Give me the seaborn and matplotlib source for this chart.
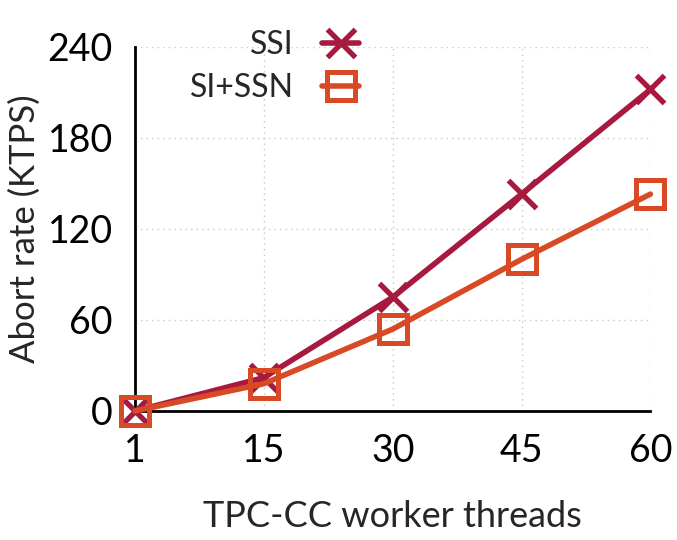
import pandas as pd
import matplotlib.pyplot as plt
import seaborn as sns

# values
threads = ['1', '15', '30', '45', '60']
ssi = [0, 22, 75, 143, 212]
si_ssn = [0, 18, 54, 100, 143]

sns.set_style('white')
plt.rcParams['font.family'] = ['Lato', 'DejaVu Sans']

pos = list(range(len(threads)))
df = pd.DataFrame({'pos': pos * 2,
                   'rate': ssi + si_ssn,
                   'scheme': ['SSI'] * len(ssi) + ['SI+SSN'] * len(si_ssn)})

fig = plt.figure(figsize=(6.77, 5.4), dpi=100)
ax = fig.add_axes([0.1994, 0.2389, 0.7613, 0.6741])

styles = {'SSI': dict(color='#a8193f', mec='#a8193f', marker='x',
                      markersize=20, mew=3.8),
          'SI+SSN': dict(color='#d84a25', mec='#d84a25', marker='s',
                         markersize=20.5, mew=3.6, mfc='none')}
for name, st in styles.items():
    sub = df[df['scheme'] == name]
    sns.lineplot(x='pos', y='rate', data=sub, ax=ax, label=name, lw=4,
                 clip_on=False, zorder=3, **st)

ax.set_xlim(0, 4)
ax.set_ylim(0, 240)
ax.set_xticks(pos)
ax.set_xticklabels(threads)
ax.set_yticks([0, 60, 120, 180, 240])
ax.grid(True, color='#c8c8c8', linestyle=(0, (1, 3)), linewidth=1)
for s in ['top', 'right']:
    ax.spines[s].set_visible(False)
for s in ['left', 'bottom']:
    ax.spines[s].set_color('black')
    ax.spines[s].set_linewidth(2)
ax.tick_params(direction='in', length=7, width=2, labelsize=27, pad=16,
               colors='black')
ax.set_xlabel('TPC-CC worker threads', fontsize=26, labelpad=22)
ax.set_ylabel('Abort rate (KTPS)', fontsize=25, labelpad=5)

ax.legend(loc='upper left', bbox_to_anchor=(0.05, 1.125), frameon=False,
          markerfirst=False, fontsize=23, handlelength=1.15,
          handletextpad=0.9, labelspacing=0.4)

fig.savefig('out.png', dpi=100)
